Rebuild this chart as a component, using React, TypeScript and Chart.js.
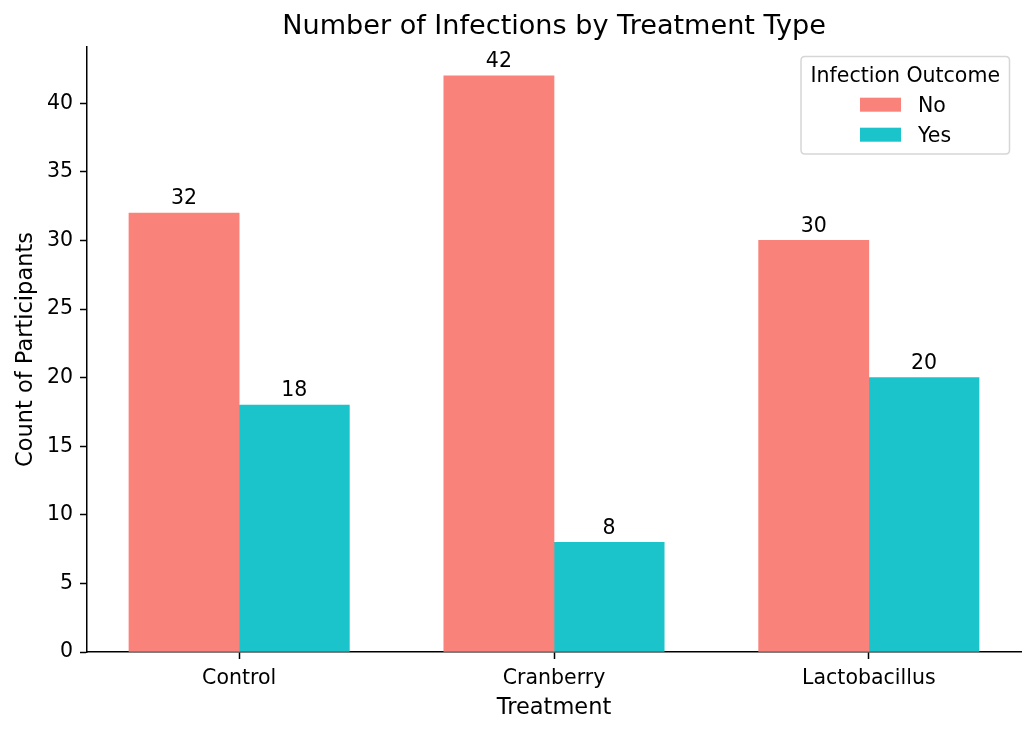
import React, { useEffect, useRef } from "react";
import { Chart, registerables } from "chart.js";

Chart.register(...registerables);

const categories = ["Control", "Cranberry", "Lactobacillus"];
const seriesNo = [32, 42, 30];
const seriesYes = [18, 8, 20];
const seriesLabels = ["No", "Yes"];
const yTicks = [0, 5, 10, 15, 20, 25, 30, 35, 40];

const TITLE = "Number of Infections by Treatment Type";
const X_LABEL = "Treatment";
const Y_LABEL = "Count of Participants";
const LEGEND_TITLE = "Infection Outcome";

const COLOR_NO = "#F9837A";
const COLOR_YES = "#1BC4CA";
const FONT = "'DejaVu Sans', 'Liberation Sans', sans-serif";
const BAR_W = 0.35;

const overlayPlugin = {
  id: "overlay",
  afterDraw(chart: any) {
    const ctx = chart.ctx;
    const area = chart.chartArea;
    const cx = (area.left + area.right) / 2;
    ctx.save();
    ctx.fillStyle = "#000";
    // title
    ctx.font = `27.1px ${FONT}`;
    ctx.textAlign = "center";
    ctx.textBaseline = "alphabetic";
    ctx.fillText(TITLE, cx, 34);
    // x label
    ctx.font = `22.5px ${FONT}`;
    ctx.fillText(X_LABEL, cx, 714);
    // y label
    ctx.save();
    ctx.translate(32, (area.top + area.bottom) / 2);
    ctx.rotate(-Math.PI / 2);
    ctx.fillText(Y_LABEL, 0, 0);
    ctx.restore();
    // value labels
    ctx.font = `20.5px ${FONT}`;
    chart.data.datasets.forEach((ds: any, di: number) => {
      const meta = chart.getDatasetMeta(di);
      meta.data.forEach((el: any, i: number) => {
        const v = ds.data[i].y;
        ctx.fillText(String(v), el.x, el.y - 8.7);
      });
    });
    // legend
    const lx = 801, ly = 56.5, lw = 208.5, lh = 97.5, r = 4;
    ctx.beginPath();
    ctx.moveTo(lx + r, ly);
    ctx.lineTo(lx + lw - r, ly);
    ctx.quadraticCurveTo(lx + lw, ly, lx + lw, ly + r);
    ctx.lineTo(lx + lw, ly + lh - r);
    ctx.quadraticCurveTo(lx + lw, ly + lh, lx + lw - r, ly + lh);
    ctx.lineTo(lx + r, ly + lh);
    ctx.quadraticCurveTo(lx, ly + lh, lx, ly + lh - r);
    ctx.lineTo(lx, ly + r);
    ctx.quadraticCurveTo(lx, ly, lx + r, ly);
    ctx.closePath();
    ctx.fillStyle = "rgba(255,255,255,0.8)";
    ctx.fill();
    ctx.strokeStyle = "#d6d6d6";
    ctx.lineWidth = 1.5;
    ctx.stroke();
    ctx.fillStyle = "#000";
    ctx.font = `20.5px ${FONT}`;
    ctx.textAlign = "center";
    ctx.fillText(LEGEND_TITLE, lx + lw / 2, 82);
    ctx.textAlign = "left";
    chart.data.datasets.forEach((ds: any, di: number) => {
      const py = 97.7 + di * 30;
      ctx.fillStyle = ds.backgroundColor;
      ctx.fillRect(860, py, 41, 14);
      ctx.fillStyle = "#000";
      ctx.fillText(ds.label, 918, py + 14.5);
    });
    ctx.restore();
  },
};

export default function App() {
  const ref = useRef<HTMLCanvasElement | null>(null);
  useEffect(() => {
    if (!ref.current) return;
    Chart.defaults.font.family = FONT;
    const yMax = Math.max(...seriesNo, ...seriesYes) * 1.05;
    const chart = new Chart(ref.current, {
      type: "bar",
      data: {
        datasets: [
          {
            label: seriesLabels[0],
            data: seriesNo.map((v, i) => ({ x: i - BAR_W / 2, y: v })),
            backgroundColor: COLOR_NO,
            grouped: false,
            barPercentage: 1,
            categoryPercentage: 1,
          },
          {
            label: seriesLabels[1],
            data: seriesYes.map((v, i) => ({ x: i + BAR_W / 2, y: v })),
            backgroundColor: COLOR_YES,
            grouped: false,
            barPercentage: 1,
            categoryPercentage: 1,
          },
        ],
      } as any,
      options: {
        animation: false,
        responsive: false,
        devicePixelRatio: 1,
        layout: { padding: { left: 0, right: 14, top: 47, bottom: 0 } },
        plugins: {
          legend: { display: false },
          title: { display: false },
          tooltip: { enabled: false },
        },
        scales: {
          x: {
            type: "linear",
            offset: false,
            min: -0.5 + 0.0167,
            max: categories.length - 0.5 - 0.0167,
            grid: {
              display: true,
              offset: false,
              drawOnChartArea: false,
              drawTicks: true,
              tickLength: 7,
              tickColor: "#000",
              tickWidth: 1.5,
            },
            border: { display: true, color: "#000", width: 1.5 },
            ticks: {
              color: "#000",
              font: { size: 20.5 },
              padding: 7,
              maxRotation: 0,
              autoSkip: false,
              callback: (v: any) => categories[v] ?? "",
            },
            afterBuildTicks: (scale: any) => {
              scale.ticks = categories.map((_, i) => ({ value: i }));
            },
            afterFit: (scale: any) => {
              scale.height = 81;
            },
          },
          y: {
            type: "linear",
            min: 0,
            max: yMax,
            grid: {
              display: true,
              drawOnChartArea: false,
              drawTicks: true,
              tickLength: 7,
              tickColor: "#000",
              tickWidth: 1.5,
            },
            border: { display: true, color: "#000", width: 1.5 },
            ticks: {
              color: "#000",
              font: { size: 20.5 },
              padding: 7,
            },
            afterBuildTicks: (scale: any) => {
              scale.ticks = yTicks.map((v) => ({ value: v }));
            },
            afterFit: (scale: any) => {
              scale.width = 87;
            },
          },
        },
      } as any,
      plugins: [overlayPlugin],
    });
    return () => chart.destroy();
  }, []);
  return (
    <div style={{ position: "fixed", left: 0, top: 0, width: 1035, height: 733, background: "#fff" }}>
      <canvas ref={ref} width={1035} height={733} style={{ width: 1035, height: 733 }} />
    </div>
  );
}
